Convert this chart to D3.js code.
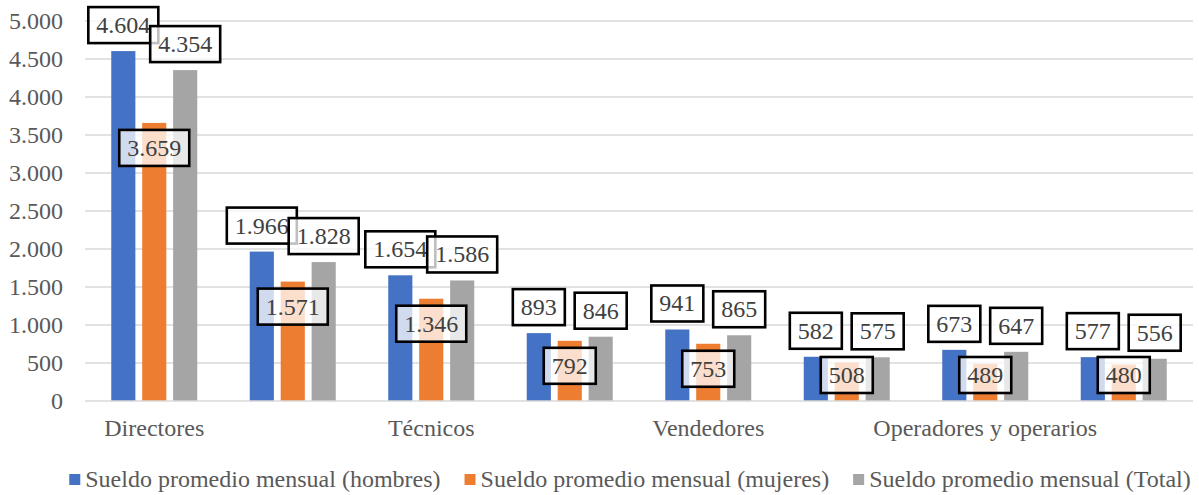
<!DOCTYPE html>
<html>
<head>
<meta charset="utf-8">
<script src="https://cdn.jsdelivr.net/npm/d3@7"></script>
<style>
  body { margin: 0; background: #fff; }
</style>
</head>
<body>
<script>
// values
var categories = ["Directores", "Profesionales", "Técnicos", "Empleados de oficina",
                  "Vendedores", "Agricultores", "Operadores y operarios", "Ocupaciones elementales"];
var series_names = ["Sueldo promedio mensual (hombres)", "Sueldo promedio mensual (mujeres)",
                    "Sueldo promedio mensual (Total)"];
var hombres = [4604, 1966, 1654, 893, 941, 582, 673, 577];
var mujeres = [3659, 1571, 1346, 792, 753, 508, 489, 480];
var total   = [4354, 1828, 1586, 846, 865, 575, 647, 556];
var y_ticks = [0, 500, 1000, 1500, 2000, 2500, 3000, 3500, 4000, 4500, 5000];
var colors = ["#4472C4", "#ED7D31", "#A5A5A5"];

var width = 1199, height = 495;
var plot = {left: 85, right: 1193, top: 21, bottom: 401};
var fontSize = 24;
var serif = "Liberation Serif";

var svg = d3.select("body").append("svg")
    .attr("width", width)
    .attr("height", height);

var x0 = d3.scaleBand().domain(categories).range([plot.left, plot.right]);
var x1 = d3.scaleBand().domain([0, 1, 2])
    .range([x0.bandwidth() / 2 - 43, x0.bandwidth() / 2 + 43])
    .paddingInner(0.22);
var y = d3.scaleLinear().domain([0, 5000]).range([plot.bottom, plot.top]);

var fmt = function(v) { return d3.format(",")(v).replace(/,/g, "."); };

// gridlines
svg.append("g").selectAll("line")
    .data(y_ticks.slice(1)).enter().append("line")
    .attr("x1", plot.left).attr("x2", plot.right)
    .attr("y1", function(d) { return y(d); })
    .attr("y2", function(d) { return y(d); })
    .style("stroke", "#d9d9d9").style("stroke-width", 1.3);

// y axis labels
var yAxis = svg.append("g")
    .attr("transform", "translate(" + (plot.left - 22) + ",0)")
    .call(d3.axisLeft(y).tickValues(y_ticks).tickSize(0).tickPadding(0).tickFormat(fmt));
yAxis.select(".domain").remove();
yAxis.selectAll("text")
    .style("font-family", serif)
    .style("font-size", fontSize + "px")
    .style("fill", "#595959")
    .attr("dy", "0.33em");

// bars
var data = categories.map(function(c, i) {
    return {cat: c, vals: [hombres[i], mujeres[i], total[i]]};
});
var groups = svg.append("g").selectAll("g")
    .data(data).enter().append("g")
    .attr("transform", function(d) { return "translate(" + x0(d.cat) + ",0)"; });
groups.selectAll("rect")
    .data(function(d) { return d.vals.map(function(v, k) { return {k: k, v: v}; }); })
    .enter().append("rect")
    .attr("x", function(d) { return x1(d.k); })
    .attr("width", x1.bandwidth())
    .attr("y", function(d) { return y(d.v); })
    .attr("height", function(d) { return plot.bottom - y(d.v); })
    .style("fill", function(d) { return colors[d.k]; });

// x axis line
svg.append("line")
    .attr("x1", plot.left).attr("x2", plot.right)
    .attr("y1", plot.bottom).attr("y2", plot.bottom)
    .style("stroke", "#d9d9d9").style("stroke-width", 1.3);

// category labels (every other one shown)
var xAxis = svg.append("g")
    .attr("transform", "translate(0," + plot.bottom + ")")
    .call(d3.axisBottom(x0).tickSize(0).tickPadding(0)
        .tickValues(categories.filter(function(d, i) { return i % 2 === 0; })));
xAxis.select(".domain").remove();
xAxis.selectAll("text")
    .style("font-family", serif)
    .style("font-size", fontSize + "px")
    .style("fill", "#595959")
    .attr("dy", 0).attr("y", 35);

// data labels
var boxH = 36;
var labels = [];
[0, 1, 2].forEach(function(k) {
    data.forEach(function(d) {
        var v = d.vals[k];
        var cx = x0(d.cat) + x1(k) + x1.bandwidth() / 2;
        var cy;
        if (k === 1) cy = Math.min(y(v) + 25, plot.bottom - 8 - boxH / 2);
        else cy = y(v) - 8 - boxH / 2;
        labels.push({k: k, v: v, cx: cx, cy: cy});
    });
});
var lab = svg.append("g").selectAll("g")
    .data(labels).enter().append("g")
    .attr("transform", function(d) { return "translate(" + d.cx + "," + d.cy + ")"; });
lab.each(function(d) {
    var g = d3.select(this);
    var t = g.append("text")
        .attr("text-anchor", "middle")
        .attr("y", 8)
        .style("font-family", serif)
        .style("font-size", fontSize + "px")
        .style("fill", "#404040")
        .text(fmt(d.v));
    var w = t.node().getComputedTextLength() + 16;
    g.insert("rect", "text")
        .attr("x", -w / 2).attr("y", -boxH / 2)
        .attr("width", w).attr("height", boxH)
        .style("fill", "white").style("fill-opacity", 0.75)
        .style("stroke", "black").style("stroke-width", 2.6);
});

// legend
var legend = svg.append("g");
var lx = 0;
series_names.forEach(function(name, k) {
    var item = legend.append("g").attr("transform", "translate(" + lx + ",0)");
    item.append("rect")
        .attr("x", 0).attr("y", -6).attr("width", 11).attr("height", 11)
        .style("fill", colors[k]);
    var t = item.append("text")
        .attr("x", 16).attr("y", 7)
        .style("font-family", serif)
        .style("font-size", fontSize + "px")
        .style("fill", "#595959")
        .text(name);
    lx += 16 + t.node().getComputedTextLength() + 24;
});
var lw = lx - 24;
legend.attr("transform", "translate(" + (630 - lw / 2) + ",480)");
</script>
</body>
</html>
